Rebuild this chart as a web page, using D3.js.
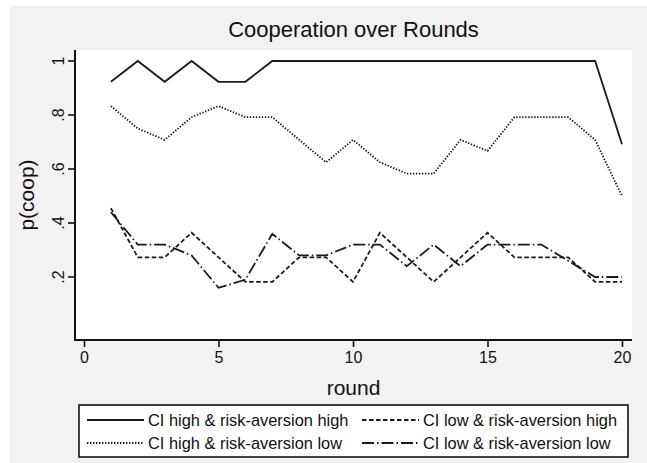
<!DOCTYPE html>
<html>
<head>
<meta charset="utf-8">
<script src="https://cdn.jsdelivr.net/npm/d3@7"></script>
<style>
  body { margin: 0; background: #fff; }
  text { font-family: "Liberation Sans", Arial, sans-serif; fill: #111; }
</style>
</head>
<body>
<div id="chart"></div>
<script>
// rounds 1..20
var rounds = [1, 2, 3, 4, 5, 6, 7, 8, 9, 10, 11, 12, 13, 14, 15, 16, 17, 18, 19, 20];

// p(coop) per round
var ciHighRaHigh = [0.923, 1, 0.923, 1, 0.923, 0.923, 1, 1, 1, 1, 1, 1, 1, 1, 1, 1, 1, 1, 1, 0.692];
var ciHighRaLow = [0.833, 0.75, 0.708, 0.792, 0.833, 0.792, 0.792, 0.708, 0.625, 0.708, 0.625, 0.583, 0.583, 0.708, 0.667, 0.792, 0.792, 0.792, 0.708, 0.5];
var ciLowRaHigh = [0.455, 0.273, 0.273, 0.364, 0.273, 0.182, 0.182, 0.273, 0.273, 0.182, 0.364, 0.273, 0.182, 0.273, 0.364, 0.273, 0.273, 0.273, 0.182, 0.182];
var ciLowRaLow = [0.44, 0.32, 0.32, 0.28, 0.16, 0.19, 0.36, 0.28, 0.28, 0.32, 0.32, 0.24, 0.32, 0.24, 0.32, 0.32, 0.32, 0.26, 0.2, 0.2];

var seriesNames = ["CI high & risk-aversion high", "CI low & risk-aversion high",
  "CI high & risk-aversion low", "CI low & risk-aversion low"];

var xTicks = [0, 5, 10, 15, 20];
var yTicks = [0.2, 0.4, 0.6, 0.8, 1];
var yTickLabels = [".2", ".4", ".6", ".8", "1"];

var width = 647, height = 463;

var svg = d3.select("#chart").append("svg")
  .attr("width", width)
  .attr("height", height);

// gray graph region + white plot region (stata look)
svg.append("rect").attr("x", 10).attr("y", 6).attr("width", width - 10).attr("height", height - 6).attr("fill", "#f2f2f2");

var plot = { left: 75, right: 632, top: 50, bottom: 340 };
svg.append("rect")
  .attr("x", plot.left).attr("y", plot.top)
  .attr("width", plot.right - plot.left).attr("height", plot.bottom - plot.top)
  .attr("fill", "#fff");

var x = d3.scaleLinear().domain([0, 20]).range([84, 622]);
var y = d3.scaleLinear().domain([0, 1]).range([331, 61]);

// title
svg.append("text")
  .attr("x", (plot.left + plot.right) / 2)
  .attr("y", 37)
  .attr("text-anchor", "middle")
  .style("font-size", "22px")
  .text("Cooperation over Rounds");

// axes
var xAxis = svg.append("g")
  .attr("transform", "translate(0," + plot.bottom + ")")
  .call(d3.axisBottom(x).tickValues(xTicks).tickSize(7).tickPadding(5).tickSizeOuter(0));
xAxis.select(".domain").remove();
xAxis.selectAll("text").style("font-size", "16px");

var yAxis = svg.append("g")
  .attr("transform", "translate(" + plot.left + ",0)")
  .call(d3.axisLeft(y).tickValues(yTicks).tickSize(7).tickSizeOuter(0)
    .tickFormat(function (d, i) { return yTickLabels[i]; }));
yAxis.select(".domain").remove();
yAxis.selectAll("text")
  .style("font-size", "16px")
  .attr("text-anchor", "middle")
  .attr("transform", function (d) { return "translate(-17," + y(d) + ") rotate(-90)"; })
  .attr("x", 0).attr("y", 0).attr("dy", "0.35em");
yAxis.selectAll(".tick").attr("transform", null);
yAxis.selectAll(".tick line").attr("y1", function (d) { return y(d); }).attr("y2", function (d) { return y(d); });
svg.selectAll(".tick line").attr("stroke", "#111").attr("stroke-width", 1.6);

// full-length axis lines
svg.append("line").attr("x1", plot.left).attr("x2", plot.left).attr("y1", plot.top).attr("y2", plot.bottom + 1)
  .attr("stroke", "#111").attr("stroke-width", 2);
svg.append("line").attr("x1", plot.left - 1).attr("x2", plot.right).attr("y1", plot.bottom).attr("y2", plot.bottom)
  .attr("stroke", "#111").attr("stroke-width", 2);

// axis titles
svg.append("text")
  .attr("x", (plot.left + plot.right) / 2).attr("y", 395)
  .attr("text-anchor", "middle").style("font-size", "21px")
  .text("round");
svg.append("text")
  .attr("transform", "translate(34," + (plot.top + plot.bottom) / 2 + ") rotate(-90)")
  .attr("text-anchor", "middle").style("font-size", "21px")
  .text("p(coop)");

// series
var series = [
  { name: seriesNames[0], values: ciHighRaHigh, dash: null },
  { name: seriesNames[1], values: ciLowRaHigh, dash: "4.5,2.5" },
  { name: seriesNames[2], values: ciHighRaLow, dash: "1.4,1.6" },
  { name: seriesNames[3], values: ciLowRaLow, dash: "12,3,1.5,3" }
];

var line = d3.line()
  .x(function (d, i) { return x(rounds[i]); })
  .y(function (d) { return y(d); });

svg.selectAll(".series")
  .data(series)
  .enter()
  .append("path")
  .attr("class", "series")
  .attr("d", function (d) { return line(d.values); })
  .attr("fill", "none")
  .attr("stroke", "#1a1a1a")
  .attr("stroke-width", 1.8)
  .attr("stroke-dasharray", function (d) { return d.dash; });

// legend
var lg = svg.append("g");
lg.append("rect")
  .attr("x", 79).attr("y", 405).attr("width", 549).attr("height", 52)
  .attr("fill", "#fff").attr("stroke", "#111").attr("stroke-width", 1.6);

var cols = [87, 362], rows = [420, 443];
series.forEach(function (s, i) {
  var cx = cols[i % 2], cy = rows[Math.floor(i / 2)];
  lg.append("line")
    .attr("x1", cx).attr("x2", cx + 57).attr("y1", cy).attr("y2", cy)
    .attr("stroke", "#1a1a1a").attr("stroke-width", 1.8)
    .attr("stroke-dasharray", s.dash);
  lg.append("text")
    .attr("x", cx + 61).attr("y", cy).attr("dy", "0.35em")
    .style("font-size", "16.4px")
    .text(s.name);
});
</script>
</body>
</html>
